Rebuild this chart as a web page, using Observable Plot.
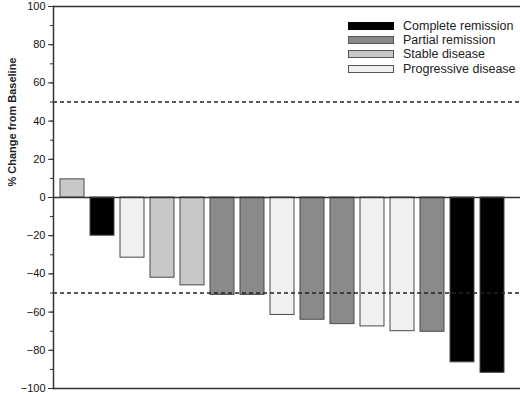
<!DOCTYPE html>
<html><head><meta charset="utf-8">
<script src="https://cdn.jsdelivr.net/npm/d3@7"></script>
<script src="https://cdn.jsdelivr.net/npm/@observablehq/plot@0.6"></script>
<style>
body{margin:0;background:#fff;font-family:"Liberation Sans",Arial,sans-serif;}
#wrap{position:relative;width:520px;height:396px;}
.legend{position:absolute;left:348px;top:19px;font-size:12.5px;color:#222;line-height:14.2px;}
.row{display:flex;align-items:center;height:14.2px;}
.sw{width:44px;height:6px;border:1px solid #555;margin-right:9px;box-sizing:content-box;}
</style></head><body><div id="wrap"></div>
<script>
const patients = [1,2,3,4,5,6,7,8,9,10,11,12,13,14,15];
const responses = ["Stable disease","Complete remission","Progressive disease","Stable disease","Stable disease",
  "Partial remission","Partial remission","Progressive disease","Partial remission","Partial remission",
  "Progressive disease","Progressive disease","Partial remission","Complete remission","Complete remission"];
const changes = [9.5,-20,-31.5,-42,-46,-51,-51,-61.5,-64,-66.3,-67.5,-70,-70.3,-86.3,-91.8];
const categories = ["Complete remission","Partial remission","Stable disease","Progressive disease"];
const colors = ["#000000","#8a8a8a","#c8c8c8","#f0f0f0"];
const yMajor = [-100,-80,-60,-40,-20,0,20,40,60,80,100];
const yMinor = [-100,-90,-80,-70,-60,-50,-40,-30,-20,-10,0,10,20,30,40,50,60,70,80,90,100];
const thresholds = [50,-50];
const yLabel = "% Change from Baseline";

const data = patients.map((p,i)=>({patient:p, response:responses[i], change:changes[i]}));

const chart = Plot.plot({
  width:520, height:396, marginTop:6, marginBottom:8, marginLeft:53, marginRight:0,
  style:{fontFamily:"'Liberation Sans', Arial, sans-serif", fontSize:"11px", color:"#111", background:"#fff"},
  x:{type:"band", domain:patients, range:[57,507], paddingInner:0.21, paddingOuter:0, axis:null},
  y:{domain:[-100,100], axis:null},
  color:{domain:categories, range:colors},
  marks:[
    Plot.barY(data,{x:"patient", y:"change", fill:"response", stroke:"#4a4a4a", strokeWidth:1}),
    Plot.ruleY([0],{stroke:"#333", strokeWidth:1.5}),
    Plot.ruleY(thresholds,{stroke:"#222", strokeWidth:1.5, strokeDasharray:"4,3"}),
    Plot.ruleY([-100,100],{stroke:"#333", strokeWidth:1.5}),
    Plot.frame({anchor:"left", stroke:"#333", strokeWidth:1.5}),
    Plot.axisY({ticks:yMinor, tickSize:3, tickFormat:()=>"", label:null, stroke:"#333"}),
    Plot.axisY({ticks:yMajor, tickSize:5, tickPadding:3, label:null, stroke:"#333", fill:"#111"}),
    Plot.text([yLabel],{text:d=>d, frameAnchor:"left", rotate:-90, dx:-41, dy:-11, fontWeight:"bold", fontSize:11, fill:"#222"})
  ]
});
const wrap = document.getElementById("wrap");
wrap.appendChild(chart);
const leg = document.createElement("div");
leg.className = "legend";
categories.forEach((c,i)=>{
  const r = document.createElement("div"); r.className="row";
  const s = document.createElement("div"); s.className="sw"; s.style.background=colors[i];
  if(i===0) s.style.borderColor="#000";
  const t = document.createElement("span"); t.textContent=c;
  r.appendChild(s); r.appendChild(t); leg.appendChild(r);
});
wrap.appendChild(leg);
</script></body></html>
